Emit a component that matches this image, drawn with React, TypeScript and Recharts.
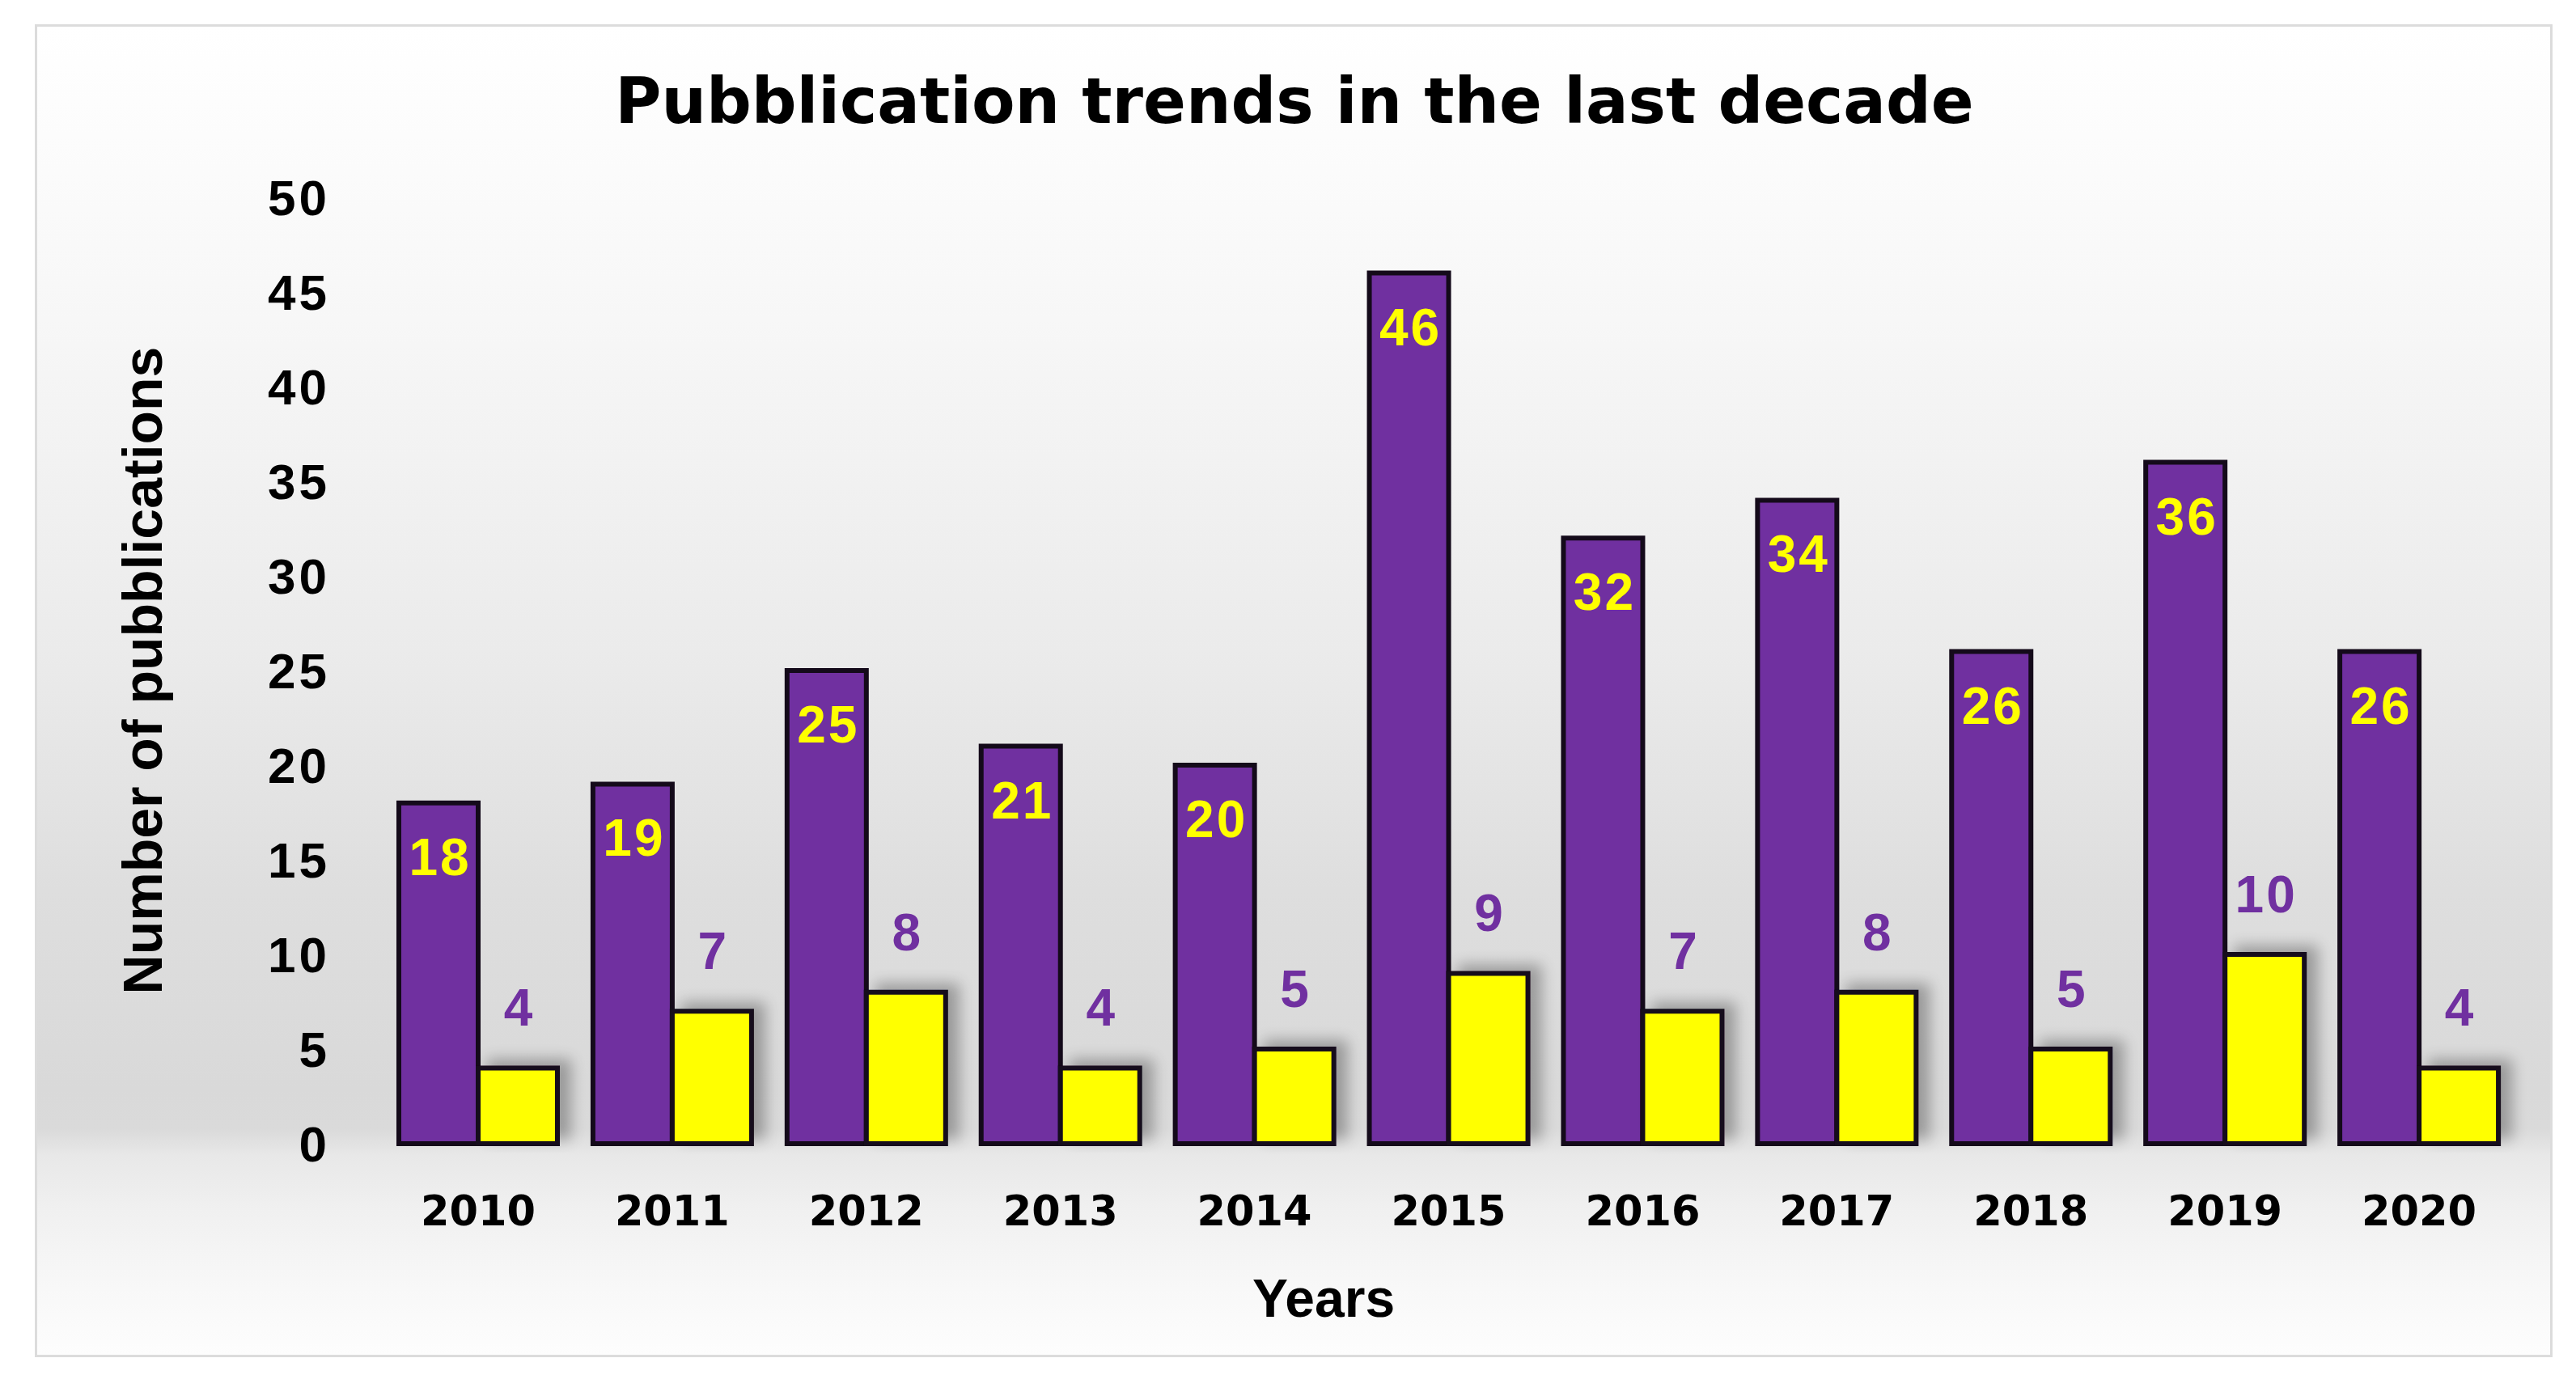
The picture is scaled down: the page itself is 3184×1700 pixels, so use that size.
import React from 'react';
import { BarChart, Bar, XAxis, YAxis, LabelList } from 'recharts';

// Values
const years = ['2010', '2011', '2012', '2013', '2014', '2015', '2016', '2017', '2018', '2019', '2020'];
const purpleCounts = [18, 19, 25, 21, 20, 46, 32, 34, 26, 36, 26];
const yellowCounts = [4, 7, 8, 4, 5, 9, 7, 8, 5, 10, 4];
const yTicks = [0, 5, 10, 15, 20, 25, 30, 35, 40, 45, 50];

const chartData = years.map((year, i) => ({
  year,
  purple: purpleCounts[i],
  yellow: yellowCounts[i],
}));

const FONT = '"Liberation Sans", Arial, sans-serif';
const WIDE = '"DejaVu Sans", Verdana, sans-serif';
const PURPLE = '#7030a0';
const YELLOW = '#ffff00';
const EDGE = '#140a1a';

const YTick = (props: any) => {
  const { x, y, payload } = props;
  return (
    <text x={x} y={y} dy="0.36em" textAnchor="end" fontFamily={FONT} fontWeight={700}
      fontSize={62} letterSpacing={4} fill="#000">
      {payload.value}
    </text>
  );
};

const XTick = (props: any) => {
  const { x, y, payload } = props;
  return (
    <text x={x} y={y} dy={101} textAnchor="middle" fontFamily={WIDE} fontWeight={700}
      fontSize={51} fill="#000">
      {payload.value}
    </text>
  );
};

// yellow number inside the top of the purple bars
const insideLabel = (props: any) => {
  const { x, y, width, value } = props;
  return (
    <text x={x + width / 2 + 2} y={y + 89} textAnchor="middle" fontFamily={FONT} fontWeight={700}
      fontSize={64} letterSpacing={3} fill={YELLOW}>
      {value}
    </text>
  );
};

// purple number above the yellow bars
const aboveLabel = (props: any) => {
  const { x, y, width, value } = props;
  return (
    <text x={x + width / 2 + 2} y={y - 52} textAnchor="middle" fontFamily={FONT} fontWeight={700}
      fontSize={64} letterSpacing={3} fill={PURPLE}>
      {value}
    </text>
  );
};

const yLabel = (props: any) => {
  const { viewBox } = props;
  const cy = viewBox.y + viewBox.height / 2;
  return (
    <text transform={`translate(200, ${cy}) rotate(-90)`} textAnchor="middle" fontFamily={FONT}
      fontWeight={700} fontSize={68} fill="#000">
      Number of pubblications
    </text>
  );
};

export default function App() {
  return (
    <div style={{ position: 'fixed', left: 0, top: 0, width: 3184, height: 1700, background: '#fff', overflow: 'hidden' }}>
      <svg width={0} height={0} style={{ position: 'absolute' }}>
        <defs>
          <filter id="barShadow" x="-20%" y="-40%" width="160%" height="160%">
            <feGaussianBlur in="SourceAlpha" stdDeviation="9" />
            <feOffset dx="14" dy="-8" result="blur" />
            <feComponentTransfer>
              <feFuncA type="linear" slope="0.3" />
            </feComponentTransfer>
            <feMerge>
              <feMergeNode />
              <feMergeNode in="SourceGraphic" />
            </feMerge>
          </filter>
        </defs>
      </svg>
      <div
        style={{
          position: 'absolute', left: 43, top: 30, width: 3112, height: 1648,
          border: '3px solid #dcdcdc', boxSizing: 'border-box',
          background: 'linear-gradient(to bottom, #ffffff 0%, #f7f7f7 22%, #ebebeb 47%, #dedede 65%, #d9d9d9 80%, #dadada 83%, #e8e8e8 85%, #f0f0f0 89%, #f8f8f8 95%, #fdfdfd 100%)',
        }}
      />
      <div style={{ position: 'absolute', left: 0, top: 0 }}>
        <BarChart width={3184} height={1700} data={chartData}
          margin={{ top: 244, right: 74, left: 371, bottom: 186 }}
          barGap={0} barSize={98}>
          <text x={1600} y={152} textAnchor="middle" fontFamily={WIDE} fontWeight={700}
            fontSize={78} fill="#000">
            Pubblication trends in the last decade
          </text>
          <text x={1636} y={1628} textAnchor="middle" fontFamily={FONT} fontWeight={700}
            fontSize={66} fill="#000">
            Years
          </text>
          <XAxis dataKey="year" axisLine={false} tickLine={false} tickSize={0} tickMargin={0}
            height={100} tick={<XTick />} interval={0} />
          <YAxis domain={[0, 50]} ticks={yTicks} axisLine={false} tickLine={false} tickSize={0}
            tickMargin={63} width={100} tick={<YTick />} interval={0} label={yLabel} />
          <Bar dataKey="purple" fill={PURPLE} stroke={EDGE} strokeWidth={6} isAnimationActive={false}>
            <LabelList dataKey="purple" content={insideLabel} />
          </Bar>
          <Bar dataKey="yellow" fill={YELLOW} stroke={EDGE} strokeWidth={6} isAnimationActive={false}
            filter="url(#barShadow)">
            <LabelList dataKey="yellow" content={aboveLabel} />
          </Bar>
        </BarChart>
      </div>
    </div>
  );
}
